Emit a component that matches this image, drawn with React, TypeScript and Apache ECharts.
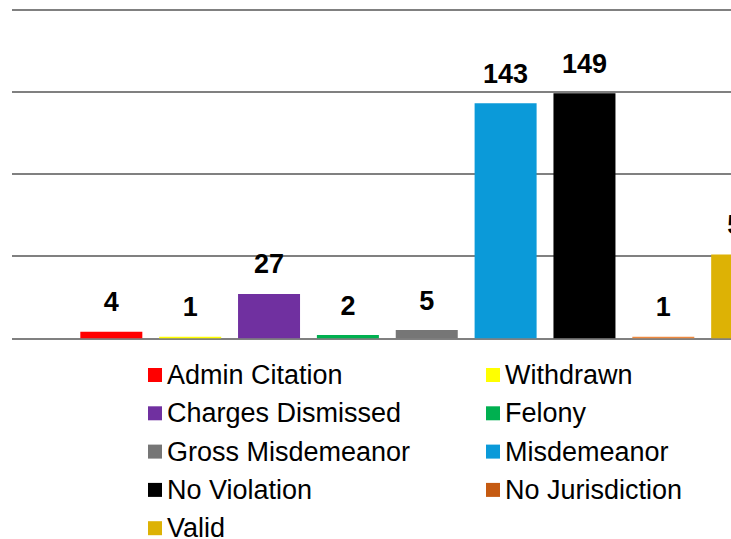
import React, { useEffect, useRef } from "react";
import * as echarts from "echarts";

const categories = [
  "Admin Citation",
  "Withdrawn",
  "Charges Dismissed",
  "Felony",
  "Gross Misdemeanor",
  "Misdemeanor",
  "No Violation",
  "No Jurisdiction",
  "Valid",
];
const values = [4, 1, 27, 2, 5, 143, 149, 1, 51];
const barColors = ["#FF0000", "#FFFF00", "#7030A0", "#00B050", "#767676", "#0B9AD9", "#000000", "#EE8A40", "#DDB205"];
const legendColors = ["#FF0000", "#FFFF00", "#7030A0", "#00B050", "#767676", "#0B9AD9", "#000000", "#C55A11", "#DDB205"];
const yTicks = [0, 50, 100, 150, 200];

const FONT = "'Liberation Sans', Arial, sans-serif";
const CHART_W = 820;
const CHART_H = 620;

export default function App() {
  const ref = useRef<HTMLDivElement>(null);
  useEffect(() => {
    if (!ref.current) return;
    const chart = echarts.init(ref.current, undefined, { renderer: "svg" });
    const top = 9.5;
    const bottom = CHART_H - 338.3;
    const leftCol = categories.filter((_, i) => i % 2 === 0);
    const rightCol = categories.filter((_, i) => i % 2 === 1);
    const legendItem = (name: string) => ({
      name,
      itemStyle: { color: legendColors[categories.indexOf(name)] },
    });
    const legendBase = {
      orient: "vertical" as const,
      top: 355,
      icon: "rect",
      itemWidth: 14,
      itemHeight: 14,
      itemGap: 8.3,
      selectedMode: false,
      textStyle: { fontSize: 27, fontFamily: FONT, color: "#000", lineHeight: 30 },
    };
    chart.setOption({
      animation: false,
      backgroundColor: "#fff",
      grid: [
        { left: 12, top, bottom, right: 0 },
        { left: 71.9, top, bottom, width: 709.7 },
      ],
      xAxis: [
        { type: "value", gridIndex: 0, show: false, min: 0, max: 1 },
        {
          type: "category",
          gridIndex: 1,
          data: categories,
          axisLabel: { show: false },
          axisLine: { show: false },
          axisTick: { show: false },
        },
      ],
      yAxis: [
        {
          type: "value",
          gridIndex: 0,
          min: yTicks[0],
          max: yTicks[yTicks.length - 1],
          interval: yTicks[1] - yTicks[0],
          axisLabel: { show: false },
          axisLine: { show: false },
          axisTick: { show: false },
          splitLine: { show: true, lineStyle: { color: "#808080", width: 2 } },
        },
        {
          type: "value",
          gridIndex: 1,
          min: yTicks[0],
          max: yTicks[yTicks.length - 1],
          interval: yTicks[1] - yTicks[0],
          show: false,
          splitLine: { show: false },
        },
      ],
      legend: [
        { ...legendBase, left: 143, data: leftCol.map(legendItem) },
        { ...legendBase, left: 481, data: rightCol.map(legendItem) },
      ],
      series: categories.map((name, i) => ({
        name,
        type: "bar",
        stack: "all",
        xAxisIndex: 1,
        yAxisIndex: 1,
        barWidth: 62,
        itemStyle: { color: barColors[i] },
        label: {
          show: true,
          position: "top",
          distance: 16,
          fontSize: 27,
          fontWeight: "bold",
          fontFamily: FONT,
          color: "#000",
        },
        data: values.map((v, j) => (j === i ? v : "-")),
      })),
    });
    return () => chart.dispose();
  }, []);
  return (
    <div style={{ position: "fixed", left: 0, top: 0, width: 731, height: 539, overflow: "hidden", background: "#fff" }}>
      <div ref={ref} style={{ width: CHART_W, height: CHART_H }} />
    </div>
  );
}
